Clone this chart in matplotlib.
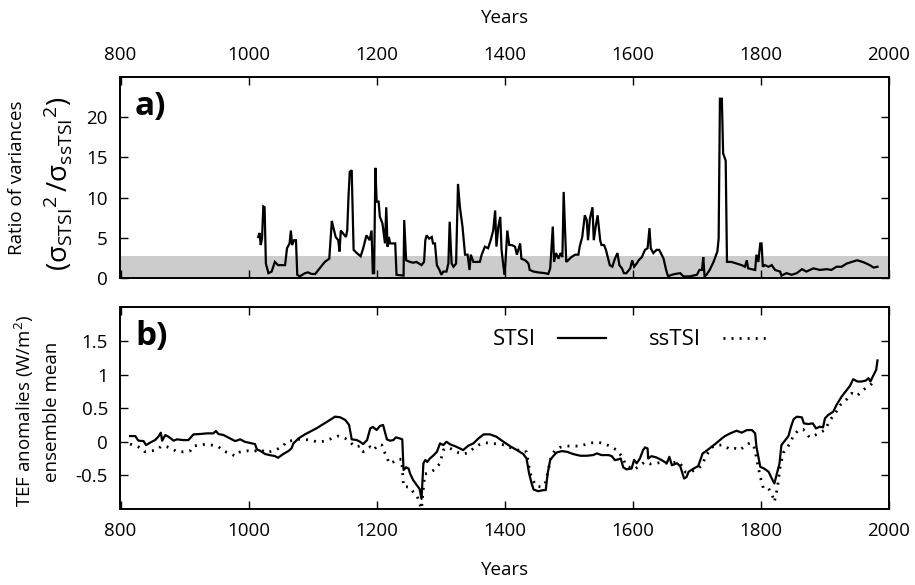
import numpy as np
import matplotlib
matplotlib.use("Agg")
import matplotlib.pyplot as plt

plt.rcParams['font.family'] = ['Open Sans', 'DejaVu Sans']
plt.rcParams['mathtext.fontset'] = 'custom'
plt.rcParams['mathtext.rm'] = 'Open Sans'
plt.rcParams['mathtext.it'] = 'Open Sans'
plt.rcParams['axes.unicode_minus'] = False

# panel a: ratio of variances
years_a = [1015, 1017, 1019, 1021, 1023, 1025, 1027, 1031, 1036, 1041, 1046, 1052, 1057, 1060,
           1064, 1066, 1068, 1071, 1074, 1076, 1080, 1088, 1093, 1098, 1104, 1111, 1119, 1126,
           1130, 1132, 1136, 1140, 1142, 1144, 1148, 1152, 1154, 1156, 1158, 1161, 1164, 1169,
           1175, 1179, 1184, 1189, 1192, 1194, 1196, 1198, 1200, 1203, 1205, 1209, 1213, 1215,
           1217, 1219, 1221, 1229, 1231, 1242, 1243, 1246, 1252, 1257, 1262, 1270, 1274, 1276,
           1278, 1282, 1286, 1288, 1291, 1294, 1298, 1301, 1304, 1309, 1312, 1314, 1317, 1320,
           1324, 1327, 1330, 1334, 1338, 1342, 1345, 1347, 1351, 1356, 1361, 1364, 1369, 1374,
           1378, 1382, 1385, 1387, 1390, 1393, 1395, 1398, 1400, 1402, 1404, 1407, 1411, 1416,
           1419, 1424, 1426, 1432, 1437, 1439, 1445, 1452, 1463, 1468, 1471, 1473, 1475, 1477,
           1480, 1484, 1487, 1490, 1492, 1496, 1499, 1504, 1510, 1515, 1517, 1521, 1525, 1528,
           1530, 1533, 1537, 1539, 1542, 1545, 1549, 1551, 1555, 1558, 1562, 1564, 1568, 1572,
           1576, 1579, 1583, 1586, 1590, 1596, 1599, 1602, 1606, 1609, 1614, 1619, 1623, 1626,
           1628, 1632, 1637, 1641, 1645, 1648, 1652, 1655, 1661, 1666, 1674, 1679, 1689, 1700,
           1704, 1708, 1710, 1712, 1715, 1720, 1726, 1732, 1734, 1736, 1739, 1741, 1745, 1747,
           1754, 1762, 1770, 1775, 1778, 1780, 1791, 1793, 1796, 1799, 1801, 1803, 1806, 1812,
           1817, 1822, 1830, 1832, 1840, 1848, 1856, 1864, 1871, 1882, 1892, 1903, 1910, 1918,
           1926, 1934, 1942, 1950, 1955, 1962, 1970, 1976, 1982]
ratio = [5.1, 5.6, 4.1, 4.9, 8.9, 8.8, 1.8, 0.6, 0.8, 2.0, 1.6, 1.6, 1.6, 3.7,
         4.3, 5.9, 4.1, 4.7, 4.7, 0.4, 0.2, 0.6, 0.7, 0.5, 0.5, 1.2, 2.0, 2.4,
         7.1, 6.4, 5.1, 4.7, 3.3, 5.9, 5.5, 5.1, 5.9, 10.1, 13.2, 13.4, 3.5, 3.1,
         2.7, 3.7, 5.3, 4.7, 5.9, 0.6, 0.6, 13.7, 9.5, 9.5, 7.6, 6.8, 4.3, 8.8,
         3.9, 5.1, 4.3, 4.3, 0.4, 0.3, 7.2, 2.2, 2.0, 1.9, 2.0, 1.6, 2.0, 4.7,
         5.3, 4.9, 5.1, 4.3, 4.3, 1.6, 1.0, 0.4, 0.8, 0.8, 1.8, 7.0, 1.8, 1.4,
         1.8, 11.7, 8.8, 6.4, 2.9, 2.9, 1.0, 2.9, 2.0, 2.0, 2.0, 2.9, 3.9, 3.7,
         4.7, 5.9, 8.4, 3.9, 6.4, 7.6, 3.5, 1.4, 0.4, 3.1, 5.9, 4.1, 4.1, 3.9,
         2.9, 4.3, 2.4, 2.2, 1.8, 1.0, 0.8, 0.7, 0.6, 0.5, 1.2, 3.9, 6.4, 2.0,
         3.1, 2.4, 3.1, 2.6, 10.7, 2.0, 2.2, 2.6, 2.9, 2.9, 3.9, 5.1, 7.8, 7.2,
         4.7, 7.4, 8.8, 4.7, 6.4, 7.8, 4.7, 4.1, 4.1, 3.5, 2.2, 1.6, 1.4, 2.4,
         3.1, 1.6, 1.2, 0.6, 0.6, 1.2, 2.2, 1.4, 1.8, 2.2, 2.6, 3.5, 3.7, 6.2,
         3.7, 3.1, 3.5, 3.5, 2.9, 2.4, 1.0, 0.2, 0.4, 0.5, 0.6, 0.2, 0.2, 0.4,
         1.0, 1.0, 2.6, 0.2, 0.4, 1.0, 2.0, 3.3, 4.9, 22.3, 22.3, 15.5, 14.6, 2.0,
         2.0, 1.8, 1.6, 1.4, 2.2, 1.2, 1.0, 2.9, 2.0, 4.3, 4.3, 1.4, 1.6, 1.4,
         1.6, 1.0, 0.8, 0.3, 0.6, 0.4, 0.6, 1.1, 0.8, 1.2, 1.0, 1.1, 1.0, 1.4,
         1.4, 1.8, 2.0, 2.2, 2.1, 1.9, 1.6, 1.3, 1.4]
shade_top = 2.7

# panel b: TEF anomalies, ensemble mean
years_stsi = [815, 823, 828, 836, 840, 846, 854, 859, 863, 865, 870, 875, 883, 888, 898, 906,
              914, 924, 935, 945, 949, 953, 961, 971, 979, 987, 994, 1005, 1010, 1013, 1018,
              1026, 1033, 1041, 1046, 1054, 1062, 1067, 1070, 1078, 1088, 1099, 1106, 1117,
              1127, 1135, 1143, 1151, 1157, 1161, 1169, 1174, 1179, 1185, 1190, 1194, 1200,
              1205, 1210, 1216, 1221, 1226, 1230, 1236, 1240, 1242, 1246, 1250, 1252, 1257,
              1263, 1267, 1270, 1273, 1276, 1279, 1283, 1289, 1294, 1299, 1304, 1309, 1315,
              1322, 1330, 1335, 1343, 1351, 1359, 1367, 1377, 1387, 1398, 1408, 1419, 1429,
              1434, 1438, 1442, 1445, 1452, 1460, 1464, 1467, 1471, 1476, 1481, 1489, 1497,
              1507, 1518, 1528, 1538, 1544, 1551, 1562, 1567, 1572, 1577, 1581, 1585, 1590,
              1598, 1602, 1606, 1611, 1616, 1619, 1623, 1624, 1629, 1637, 1645, 1653, 1657,
              1661, 1669, 1674, 1680, 1684, 1687, 1695, 1702, 1709, 1715, 1723, 1731, 1739,
              1744, 1752, 1762, 1770, 1778, 1786, 1791, 1793, 1799, 1805, 1812, 1817, 1821,
              1825, 1829, 1832, 1838, 1843, 1847, 1851, 1856, 1864, 1867, 1874, 1881, 1886,
              1892, 1897, 1900, 1905, 1913, 1918, 1926, 1934, 1939, 1944, 1951, 1957, 1964,
              1968, 1971, 1976, 1980, 1982]
stsi = [0.085, 0.085, 0.016, 0.01, -0.05, -0.014, 0.025, 0.075, 0.135, 0.016, 0.1, 0.075,
        0.016, 0.036, 0.025, 0.025, 0.11, 0.115, 0.125, 0.125, 0.16, 0.115, 0.1, 0.05, 0.01,
        0.036, 0.0, -0.024, -0.034, -0.114, -0.134, -0.183, -0.198, -0.213, -0.238, -0.183,
        -0.139, -0.099, -0.024, 0.05, 0.11, 0.165, 0.2, 0.264, 0.324, 0.374, 0.364, 0.324,
        0.249, 0.036, 0.025, 0.0, -0.034, 0.025, 0.2, 0.22, 0.175, 0.234, 0.25, 0.035,
        0.016, 0.025, 0.065, 0.05, 0.035, -0.42, -0.38, -0.40, -0.47, -0.57, -0.65, -0.70,
        -0.85, -0.32, -0.27, -0.30, -0.25, -0.20, -0.15, -0.024, -0.049, 0.0, -0.04,
        -0.064, -0.099, -0.124, -0.059, -0.024, 0.05, 0.11, 0.11, 0.075, 0.0, -0.064,
        -0.124, -0.183, -0.248, -0.47, -0.62, -0.71, -0.735, -0.72, -0.72, -0.47, -0.27,
        -0.21, -0.16, -0.139, -0.149, -0.183, -0.208, -0.208, -0.198, -0.173, -0.198,
        -0.198, -0.213, -0.273, -0.263, -0.248, -0.38, -0.41, -0.40, -0.27, -0.32, -0.25,
        -0.124, -0.084, -0.10, -0.25, -0.214, -0.234, -0.273, -0.32, -0.224, -0.348, -0.32,
        -0.363, -0.547, -0.522, -0.447, -0.398, -0.363, -0.174, -0.134, -0.074, -0.015,
        0.05, 0.085, 0.125, 0.164, 0.135, 0.174, 0.174, 0.125, -0.074, -0.373, -0.398,
        -0.447, -0.547, -0.62, -0.472, -0.323, -0.05, 0.025, 0.085, 0.224, 0.334, 0.373,
        0.363, 0.274, 0.264, 0.274, 0.199, 0.224, 0.214, 0.348, 0.398, 0.448, 0.547, 0.672,
        0.771, 0.831, 0.93, 0.896, 0.896, 0.911, 0.946, 0.896, 0.995, 1.07, 1.21]

years_sstsi = [815, 825, 833, 838, 849, 856, 864, 872, 880, 888, 898, 909, 914, 922, 932, 942,
               953, 961, 971, 979, 987, 997, 1007, 1018, 1028, 1038, 1044, 1054, 1059, 1067,
               1078, 1088, 1099, 1109, 1119, 1130, 1140, 1151, 1158, 1166, 1174, 1179, 1190,
               1195, 1203, 1208, 1213, 1216, 1219, 1226, 1231, 1239, 1242, 1247, 1252, 1257,
               1263, 1268, 1270, 1275, 1283, 1291, 1299, 1304, 1312, 1320, 1328, 1335, 1343,
               1351, 1359, 1369, 1380, 1390, 1400, 1408, 1419, 1426, 1434, 1437, 1439, 1444,
               1449, 1456, 1463, 1468, 1473, 1479, 1486, 1497, 1507, 1518, 1528, 1538, 1546,
               1554, 1564, 1575, 1583, 1590, 1603, 1611, 1619, 1627, 1635, 1643, 1650, 1661,
               1671, 1676, 1682, 1689, 1700, 1708, 1714, 1723, 1731, 1741, 1752, 1760, 1767,
               1775, 1783, 1788, 1791, 1793, 1799, 1804, 1812, 1817, 1821, 1824, 1827, 1830,
               1835, 1840, 1846, 1851, 1859, 1866, 1876, 1885, 1892, 1900, 1908, 1916, 1924,
               1934, 1942, 1950, 1957, 1965, 1973, 1977]
sstsi = [-0.034, -0.064, -0.099, -0.149, -0.134, -0.124, -0.064, -0.074, -0.099, -0.149,
         -0.149, -0.134, -0.064, -0.049, -0.039, -0.049, -0.074, -0.139, -0.173, -0.213,
         -0.149, -0.134, -0.149, -0.114, -0.163, -0.134, -0.114, -0.064, 0.0, 0.016, 0.036,
         0.036, 0.016, -0.004, 0.01, 0.05, 0.085, 0.05, 0.0, -0.074, -0.064, -0.149, -0.074,
         -0.124, -0.04, -0.05, -0.17, -0.22, -0.32, -0.30, -0.26, -0.26, -0.67, -0.67, -0.68,
         -0.745, -0.80, -0.94, -1.0, -0.48, -0.46, -0.41, -0.32, -0.124, -0.084, -0.124,
         -0.163, -0.183, -0.163, -0.099, -0.049, -0.014, -0.024, -0.034, -0.049, -0.084,
         -0.114, -0.149, -0.149, -0.32, -0.45, -0.57, -0.66, -0.67, -0.63, -0.42, -0.198,
         -0.124, -0.084, -0.064, -0.064, -0.064, -0.034, -0.014, -0.009, -0.024, -0.064,
         -0.124, -0.22, -0.36, -0.41, -0.35, -0.30, -0.33, -0.32, -0.31, -0.32, -0.31, -0.30,
         -0.35, -0.45, -0.45, -0.41, -0.35, -0.214, -0.084, -0.05, -0.05, -0.114, -0.099,
         -0.124, -0.064, -0.015, -0.05, -0.124, -0.248, -0.522, -0.696, -0.696, -0.77,
         -0.895, -0.77, -0.597, -0.373, -0.164, -0.099, -0.015, 0.1, 0.174, 0.184, 0.065,
         0.1, 0.135, 0.174, 0.323, 0.423, 0.547, 0.632, 0.722, 0.682, 0.746, 0.811, 0.861,
         0.91]

xticks = [800, 1000, 1200, 1400, 1600, 1800, 2000]
yticks_a = [0, 5, 10, 15, 20]
yticks_b = [-0.5, 0, 0.5, 1, 1.5]
yticklabels_b = ['-0.5', '0', '0.5', '1', '1.5']

W, H = 915, 585
fig = plt.figure(figsize=(W / 100, H / 100), dpi=100)
axa = fig.add_axes([120.5 / W, 1 - 278 / H, 768.5 / W, 201 / H])
axb = fig.add_axes([120.5 / W, 1 - 509 / H, 768.5 / W, 201.7 / H])

fs = 13.5
for ax in (axa, axb):
    ax.set_xlim(800, 2000)
    ax.set_xticks(xticks)
    ax.tick_params(direction='in', length=6, width=1, top=True, right=True,
                   labelsize=fs, pad=9)
    for s in ax.spines.values():
        s.set_linewidth(1.4)

# panel a
axa.axhspan(0, shade_top, color='#cccccc', lw=0, zorder=0)
axa.plot(years_a, ratio, color='black', lw=1.6, solid_joinstyle='miter')
axa.set_ylim(0, 25)
axa.set_yticks(yticks_a)
axa.tick_params(labelbottom=False, labeltop=True)
axa.text(0.019, 0.855, 'a)', transform=axa.transAxes, fontsize=24,
         fontweight='bold', va='center', ha='left')

# panel b
axb.plot(years_stsi, stsi, color='black', lw=1.6, label='STSI')
axb.plot(years_sstsi, sstsi, color='black', lw=2.0, dashes=(0.7, 2.2), label='ssTSI')
axb.set_ylim(-1, 2)
axb.set_yticks(yticks_b)
axb.set_yticklabels(yticklabels_b)
axb.text(0.019, 0.855, 'b)', transform=axb.transAxes, fontsize=24,
         fontweight='bold', va='center', ha='left')
axb.legend(loc='center left', bbox_to_anchor=(0.484, 0.838), ncol=2,
           markerfirst=False, frameon=False, fontsize=16, borderpad=0,
           borderaxespad=0, handlelength=2.15, handletextpad=1.0,
           columnspacing=1.95)

# axis labels
fig.text(504.8 / W, 1 - 18 / H, 'Years', ha='center', va='center', fontsize=fs)
fig.text(504.8 / W, 1 - 570 / H, 'Years', ha='center', va='center', fontsize=fs)
fig.text(17 / W, 1 - 178 / H, 'Ratio of variances', rotation=90,
         ha='center', va='center', fontsize=fs)
fig.text(58 / W, 1 - 184 / H,
         r'$(\sigma_{\mathrm{STSI}}{}^{2}\,/\sigma_{\mathrm{ssTSI}}{}^{2})$',
         rotation=90, ha='center', va='center', fontsize=20)
fig.text(24 / W, 1 - 411 / H, 'TEF anomalies (W/m$^2$)', rotation=90,
         ha='center', va='center', fontsize=fs)
fig.text(52 / W, 1 - 412 / H, 'ensemble mean', rotation=90,
         ha='center', va='center', fontsize=fs)

fig.savefig('out.png', dpi=100)
